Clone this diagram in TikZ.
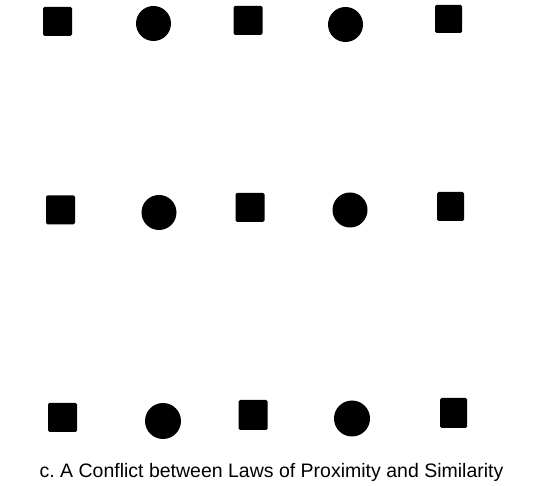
\documentclass[tikz,border=0pt]{standalone}
\usepackage{fontspec}
\setmainfont{Liberation Sans}
\frenchspacing
\begin{document}
\begin{tikzpicture}[x=1pt,y=-1pt,
  sq/.style={rectangle,fill=black,inner sep=0pt,minimum width=29pt,minimum height=29pt,rounded corners=1.5pt},
  dot/.style={circle,fill=black,inner sep=0pt,minimum size=35pt},
  captiontext/.style={anchor=base,inner sep=0pt,font=\fontsize{19.5pt}{22pt}\selectfont}]
\useasboundingbox (0,0) rectangle (536,486);
% row 1
\node[sq]  (s11) at (57.5,21.5) {};
\node[dot] (c11) at (153.5,23.5) {};
\node[sq]  (s12) at (248,20.5) {};
\node[dot] (c12) at (345.5,24.5) {};
\node[sq,minimum width=27pt,minimum height=28pt]  (s13) at (448.5,19) {};
% row 2
\node[sq]  (s21) at (60.5,210) {};
\node[dot] (c21) at (159,212.5) {};
\node[sq]  (s22) at (250,207.5) {};
\node[dot] (c22) at (350,210) {};
\node[sq,minimum width=27pt]  (s23) at (450.5,206.5) {};
% row 3
\node[sq]  (s31) at (62.5,417.5) {};
\node[dot,minimum size=36pt] (c31) at (163,421) {};
\node[sq,minimum height=30pt]  (s32) at (253,415) {};
\node[dot,minimum size=36pt] (c32) at (352,418.5) {};
\node[sq,minimum width=27pt,minimum height=30pt]  (s33) at (453.5,413) {};
% caption
\node[captiontext] (caption) at (271.5,478) {c. A Conflict between Laws of Proximity and Similarity};
\end{tikzpicture}
\end{document}
